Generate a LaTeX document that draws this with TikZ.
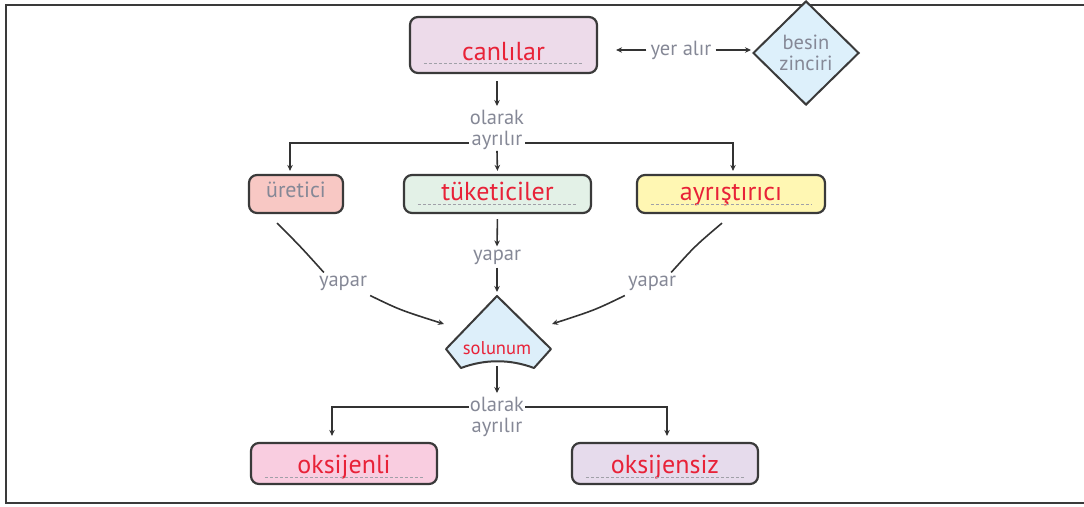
\documentclass[tikz,border=0pt]{standalone}
\usepackage{fontspec}
\setmainfont{PT Sans}
\usetikzlibrary{arrows.meta,shapes.geometric,calc}
\definecolor{canfill}{HTML}{EDDBEA}
\definecolor{urefill}{HTML}{F8C8C4}
\definecolor{tukfill}{HTML}{E3F1E7}
\definecolor{ayrfill}{HTML}{FFF7B3}
\definecolor{oksfill}{HTML}{F9CDE0}
\definecolor{oksizfill}{HTML}{E6DBEC}
\definecolor{solfill}{HTML}{DDEFFA}
\definecolor{bzfill}{HTML}{DDF0FB}
\definecolor{redc}{HTML}{E82238}
\definecolor{grayc}{HTML}{858896}
\definecolor{bordc}{HTML}{3A3A3A}
\definecolor{arrc}{HTML}{333333}
\definecolor{dashc}{HTML}{A0A0A8}
\tikzset{
  box/.style={draw=bordc, line width=2.2pt, rounded corners=8pt, inner sep=0pt},
  redlab/.style={text=redc, font=\fontsize{26}{26}\selectfont},
  graylab/.style={text=grayc, font=\fontsize{20.5}{21}\selectfont, align=center, inner sep=1pt},
  arr/.style={draw=arrc, line width=1.6pt, -{Stealth[length=6pt,width=5.5pt]}},
  ln/.style={draw=arrc, line width=1.6pt},
  dashl/.style={draw=dashc, line width=0.8pt, dash pattern=on 3pt off 2pt},
}
\begin{document}
\begin{tikzpicture}[x=1pt,y=-1pt]
\useasboundingbox (0,0) rectangle (1084,506);
% frame
\draw[draw=bordc, line width=2pt] (1084,5) -- (6,5) -- (6,503) -- (1084,503);

% boxes
\node[box, fill=canfill, minimum width=187pt, text height=43pt, text depth=13pt, redlab] (can) at (503.5,45) {canlılar};
\node[box, fill=urefill, minimum width=94pt, text height=22pt, text depth=16pt, graylab, font=\fontsize{22}{22}\selectfont, inner sep=0pt] (ure) at (296,194) {üretici};
\node[box, fill=tukfill, minimum width=187pt, text height=25pt, text depth=13pt, redlab] (tuk) at (497.5,194) {tüketiciler};
\node[box, fill=ayrfill, minimum width=188pt, text height=25pt, text depth=13pt, redlab] (ayr) at (731,194) {ayrıştırıcı};
\node[box, fill=oksfill, minimum width=186pt, text height=30pt, text depth=11pt, redlab] (oks) at (344,463.5) {oksijenli};
\node[box, fill=oksizfill, minimum width=186pt, text height=30pt, text depth=11pt, redlab] (oksiz) at (665,463.5) {oksijensiz};

% dashed guide lines
\foreach \n/\d in {can/11, tuk/10, ayr/10, oks/8, oksiz/8}{
  \draw[dashl] ([shift={(15,-\d)}]\n.south west) -- ([shift={(-15,-\d)}]\n.south east);
}

% diamond
\node[diamond, draw=bordc, line width=2pt, fill=bzfill, minimum width=106pt, minimum height=104pt, inner sep=0pt, graylab] (bz) at (806,53) {besin\\zinciri};

% solunum shape
\coordinate (s1) at (497,296);
\coordinate (s2) at (446,349);
\coordinate (s3) at (461,368);
\coordinate (s4) at (534,368);
\coordinate (s5) at (551,349);
\draw[draw=bordc, line width=2pt, line join=round, fill=solfill] (s1) -- (s2) -- (s3) .. controls (485,359) and (510,359) .. (s4) -- (s5) -- cycle;
\node[text=redc, font=\fontsize{18.5}{18.5}\selectfont, inner sep=0pt] (sol) at (497,348) {solunum};
\coordinate (sbot) at (497,362);
\coordinate (sL) at (444,324);
\coordinate (sR) at (552,324);

% labels
\node[graylab] (ol1) at (497,130) {olarak\\ayrılır};
\node[graylab] (yer) at (681,50) {yer alır};
\node[graylab] (yap1) at (497,257) {yapar};
\node[graylab] (yapL) at (343,283) {yapar};
\node[graylab] (yapR) at (652,283) {yapar};
\node[graylab] (ol2) at (497,417) {olarak\\ayrılır};

% connectors
\draw[arr, shorten <=7pt, shorten >=3pt] (ol1.north |- can.south) -- (ol1.north);
\draw[arr, shorten >=3pt] (ol1.west |- 0,143) -| ([xshift=-6pt]ure.north);
\draw[arr, shorten >=3pt] (ol1.east |- 0,143) -| ([xshift=2pt]ayr.north);
\draw[arr, shorten >=3pt] (ol1.south) -- (tuk.north);

\draw[arr, shorten >=18pt, shorten <=3pt] (yer.west) -- (yer.west -| can.east);
\draw[arr, shorten >=1pt, shorten <=3pt] (yer.east) -- (yer.east -| bz.west);

\draw[arr, shorten <=5pt, shorten >=2pt] (tuk.south) -- (yap1.north);
\draw[arr, shorten <=2pt, shorten >=4pt] (yap1.south) -- (s1);

\draw[ln] ([shift={(-19,9)}]ure.south) .. controls (300,246) .. ([shift={(6,-2)}]yapL.north west);
\draw[arr] ([shift={(2,4)}]yapL.south east) .. controls (400,310) .. (sL);
\draw[ln] ([shift={(-9,9)}]ayr.south) .. controls (695,246) .. ([shift={(-6,-2)}]yapR.north east);
\draw[arr] ([shift={(-2,4)}]yapR.south west) .. controls (595,310) .. (sR);

\draw[arr, shorten <=4pt, shorten >=3pt] (sbot) -- (ol2.north);
\draw[arr, shorten >=6pt] (ol2.west |- 0,407) -| ([xshift=-12pt]oks.north);
\draw[arr, shorten >=6pt] (ol2.east |- 0,407) -| ([xshift=2pt]oksiz.north);
\end{tikzpicture}
\end{document}
